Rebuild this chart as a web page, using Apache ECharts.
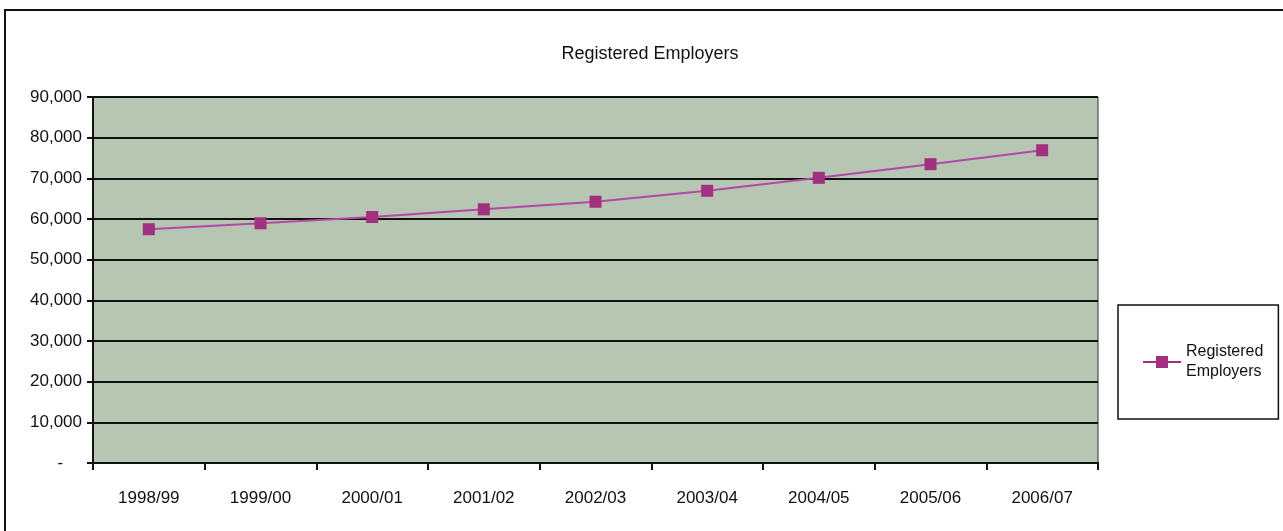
<!doctype html>
<html>
	<head>
		<meta charset="UTF-8">
		<title>Registered Employers</title>
		<script src="https://cdn.jsdelivr.net/npm/echarts@6/dist/echarts.min.js"></script>
		<style>
			html, body { margin: 0; padding: 0; background: #ffffff; }
			#chart { width: 1283px; height: 531px; }
		</style>
	</head>
	<body>
		<div id="chart"></div>
		<script type="text/javascript">
			// data
			var years = ['1998/99', '1999/00', '2000/01', '2001/02', '2002/03', '2003/04', '2004/05', '2005/06', '2006/07'];
			var employers = [57480, 58950, 60490, 62380, 64240, 66940, 70120, 73480, 76910];
			var yMax = 90000;
			var yStep = 10000;

			var myChart = echarts.init(document.getElementById('chart'));
			var font = '"Liberation Sans", Arial, sans-serif';
			var option = {
				backgroundColor: '#ffffff',
				animation: false,
				title: {
					text: 'Registered Employers',
					left: 645,
					textAlign: 'center',
					top: 40,
					textStyle: { fontFamily: font, fontSize: 18, fontWeight: 'normal', color: '#111' }
				},
				legend: {
					orient: 'vertical',
					left: 1118,
					top: 305,
					padding: [37, 15, 37, 25],
					borderColor: '#111',
					borderWidth: 1.5,
					itemWidth: 38,
					itemHeight: 12,
					itemGap: 0,
					formatter: function () { return 'Registered\nEmployers'; },
					textStyle: { fontFamily: font, fontSize: 16, color: '#111', lineHeight: 20, align: 'right' },
					data: [{ name: 'Registered Employers', icon: 'path://M0,5 L13,5 L13,0 L25,0 L25,5 L38,5 L38,7 L25,7 L25,12 L13,12 L13,7 L0,7 Z' }]
				},
				grid: {
					left: 93,
					right: 185,
					top: 97,
					bottom: 68,
					show: true,
					backgroundColor: '#b7c5b3',
					borderColor: '#333',
					borderWidth: 1
				},
				xAxis: {
					type: 'category',
					data: years,
					boundaryGap: true,
					axisLine: { lineStyle: { color: '#111', width: 2 } },
					axisTick: { show: true, length: 7, lineStyle: { color: '#111', width: 2 } },
					axisLabel: { fontFamily: font, fontSize: 17, color: '#111', margin: 27 }
				},
				yAxis: {
					type: 'value',
					min: 0,
					max: yMax,
					interval: yStep,
					axisLine: { show: true, lineStyle: { color: '#111', width: 2 } },
					axisTick: { show: true, length: 6, lineStyle: { color: '#111', width: 2 } },
					splitLine: { show: true, lineStyle: { color: '#111', width: 2 } },
					axisLabel: {
						fontFamily: font, fontSize: 17, color: '#111', margin: 11,
						formatter: function (v) { return v === 0 ? '-    ' : v.toLocaleString('en-US'); }
					}
				},
				series: [{
					name: 'Registered Employers',
					type: 'line',
					data: employers,
					symbol: 'rect',
					symbolSize: 12,
					itemStyle: { color: '#a1307f' },
					lineStyle: { color: '#b449a4', width: 2 }
				}],
				graphic: [{
					type: 'rect',
					shape: { x: 5, y: 10, width: 1290, height: 540 },
					style: { fill: 'none', stroke: '#111', lineWidth: 2 },
					silent: true
				}]
			};
			myChart.setOption(option);
		</script>
	</body>
</html>
